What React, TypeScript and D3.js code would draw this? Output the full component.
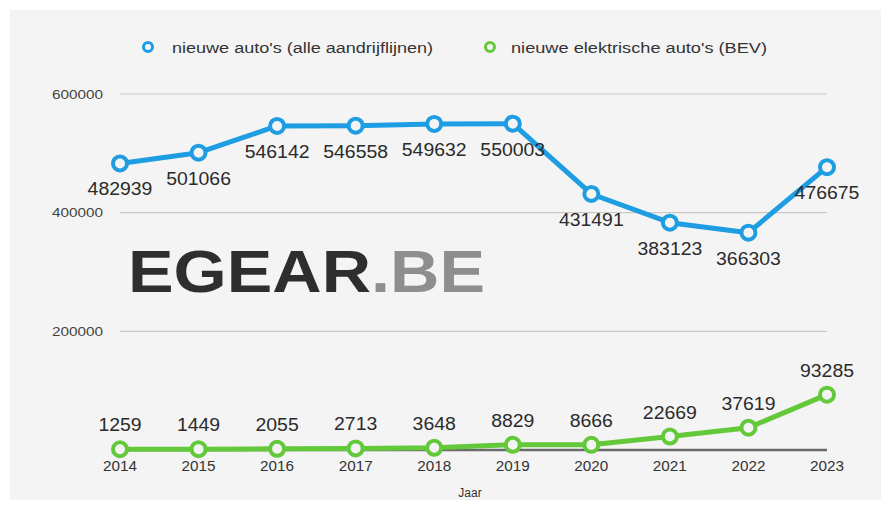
import React from 'react';
import * as d3 from 'd3';

const years = ['2014', '2015', '2016', '2017', '2018', '2019', '2020', '2021', '2022', '2023'];
const allCars = [482939, 501066, 546142, 546558, 549632, 550003, 431491, 383123, 366303, 476675];
const evCars = [1259, 1449, 2055, 2713, 3648, 8829, 8666, 22669, 37619, 93285];
const yTicks = [200000, 400000, 600000];
const seriesNames = ["nieuwe auto's (alle aandrijflijnen)", "nieuwe elektrische auto's (BEV)"];
const xTitle = 'Jaar';
const logoMain = 'EGEAR';
const logoSuffix = '.BE';

const W = 891;
const H = 513;
const BLUE = '#1e9de2';
const GREEN = '#63c93a';
const FONT = "'Liberation Sans', Arial, Helvetica, sans-serif";

export default function App() {
  const x = d3.scalePoint<string>().domain(years).range([120, 827]);
  const y = d3.scaleLinear().domain([0, 600000]).range([450, 94]);

  const line = d3
    .line<number>()
    .x((_, i) => x(years[i]) as number)
    .y((d) => y(d));

  const series = [
    { name: seriesNames[0], values: allCars, color: BLUE, labelDy: 32 },
    { name: seriesNames[1], values: evCars, color: GREEN, labelDy: -18 },
  ];

  const legend = [
    { name: seriesNames[0], color: BLUE, cx: 148, tx: 172, len: 261 },
    { name: seriesNames[1], color: GREEN, cx: 490, tx: 511, len: 256 },
  ];

  return (
    <svg
      width={W}
      height={H}
      style={{ position: 'absolute', left: 0, top: 0, display: 'block' }}
      fontFamily={FONT}
    >
      <rect x={0} y={0} width={W} height={H} fill="#ffffff" />
      <rect x={10} y={10} width={871} height={490} fill="#f4f4f4" />

      {/* legend */}
      {legend.map((l) => (
        <g key={l.name}>
          <circle cx={l.cx} cy={47} r={4.5} fill="#f4f4f4" stroke={l.color} strokeWidth={3} />
          <text
            x={l.tx}
            y={52.5}
            fontSize={15.5}
            fill="#333"
            textLength={l.len}
            lengthAdjust="spacingAndGlyphs"
          >
            {l.name}
          </text>
        </g>
      ))}

      {/* grid + y labels */}
      {yTicks.map((t) => (
        <g key={t}>
          <line x1={120} x2={827} y1={y(t)} y2={y(t)} stroke="#c9c9c9" strokeWidth={1.2} />
          <text
            x={103}
            y={y(t) + 4.5}
            textAnchor="end"
            fontSize={13}
            fill="#444"
            textLength={51}
            lengthAdjust="spacingAndGlyphs"
          >
            {t}
          </text>
        </g>
      ))}

      {/* logo */}
      <text
        x={128}
        y={292}
        fontSize={60}
        fontWeight="bold"
        textLength={357}
        lengthAdjust="spacingAndGlyphs"
      >
        <tspan fill="#2e2e2e">{logoMain}</tspan>
        <tspan fill="#8e8e8e">{logoSuffix}</tspan>
      </text>

      {/* zero axis */}
      <line x1={120} x2={827} y1={y(0)} y2={y(0)} stroke="#6a6a6a" strokeWidth={2.5} />

      {/* x tick labels */}
      {years.map((yr) => (
        <text
          key={yr}
          x={x(yr) as number}
          y={471}
          textAnchor="middle"
          fontSize={14}
          fill="#333"
          textLength={34}
          lengthAdjust="spacingAndGlyphs"
        >
          {yr}
        </text>
      ))}
      <text x={470} y={497} textAnchor="middle" fontSize={12} fill="#333">
        {xTitle}
      </text>

      {/* series */}
      {series.map((s) => (
        <g key={s.name}>
          <path d={line(s.values) as string} fill="none" stroke={s.color} strokeWidth={5} strokeLinejoin="round" />
          {s.values.map((v, i) => (
            <circle
              key={i}
              cx={x(years[i]) as number}
              cy={y(v)}
              r={7}
              fill="#f4f4f4"
              stroke={s.color}
              strokeWidth={4}
            />
          ))}
        </g>
      ))}

      {/* data labels */}
      {series.map((s) => (
        <g key={s.name + '-labels'}>
          {s.values.map((v, i) => (
            <text
              key={i}
              x={x(years[i]) as number}
              y={y(v) + s.labelDy}
              textAnchor="middle"
              fontSize={18}
              fill="#2b2b2b"
              textLength={String(v).length * 10.8}
              lengthAdjust="spacingAndGlyphs"
            >
              {v}
            </text>
          ))}
        </g>
      ))}
    </svg>
  );
}
